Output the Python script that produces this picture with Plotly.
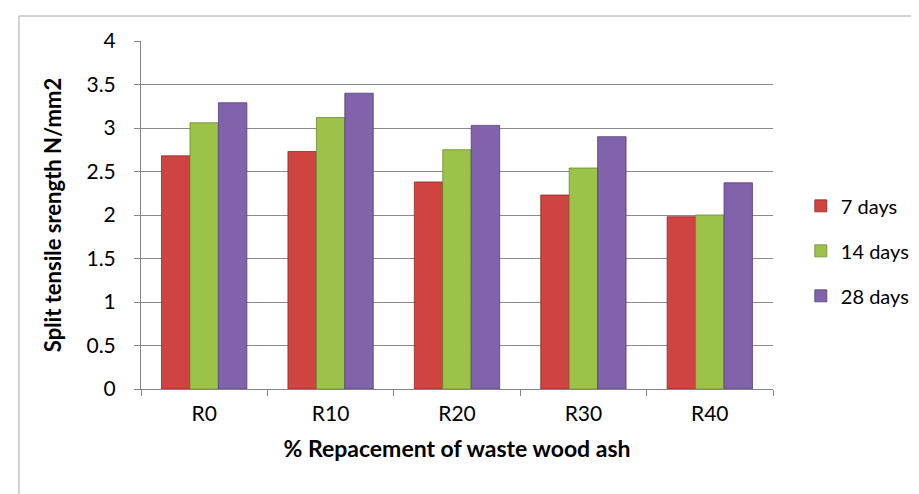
import plotly.graph_objects as go

categories = ["R0", "R10", "R20", "R30", "R40"]
series_names = ["7 days", "14 days", "28 days"]
days7 = [2.68, 2.73, 2.38, 2.23, 1.98]
days14 = [3.06, 3.12, 2.75, 2.54, 2.00]
days28 = [3.29, 3.40, 3.03, 2.90, 2.37]
colors = ["#CF4341", "#9CC24A", "#8063AA"]
line_colors = ["#8E2A28", "#6B8A2E", "#533E78"]
y_ticks = [0, 0.5, 1, 1.5, 2, 2.5, 3, 3.5, 4]

W, H = 919, 494
L, R, T, B = 133, 149, 33, 113

fig = go.Figure()
for name, vals, c, lc in zip(series_names, [days7, days14, days28], colors, line_colors):
    fig.add_trace(go.Bar(
        x=categories, y=vals, name=name,
        marker=dict(color=c, line=dict(color=lc, width=0.8)),
        legendgroup=name,
    ))

font_family = "Lato, Open Sans, sans-serif"
FS = 21

fig.update_layout(
    width=W, height=H,
    margin=dict(l=L, r=R, t=T, b=B, pad=0),
    paper_bgcolor="white", plot_bgcolor="white",
    barmode="group", bargap=0.325, bargroupgap=0,
    font=dict(family=font_family, size=FS, color="black"),
    showlegend=True,
    legend=dict(x=1.044, y=0.397, xanchor="left", yanchor="middle",
                font=dict(size=20), tracegroupgap=16,
                itemwidth=30, bgcolor="rgba(0,0,0,0)"),
    xaxis=dict(
        showline=True, linecolor="#868686", linewidth=1,
        ticks="outside", ticklen=6, tickcolor="#868686", tickson="boundaries",
        showgrid=False, ticklabelstandoff=6,
        title=dict(text="<b>% Repacement of waste wood ash</b>", font=dict(size=23), standoff=16),
        tickfont=dict(size=FS),
    ),
    yaxis=dict(
        range=[0, 4], tickvals=y_ticks,
        showline=True, linecolor="#868686", linewidth=1,
        ticks="outside", ticklen=6, tickcolor="#868686",
        showgrid=True, gridcolor="#8C8C8C", gridwidth=1,
        zeroline=False, ticklabelstandoff=14,
        title=dict(text="<b>Split tensile srength N/mm2</b>", font=dict(size=22), standoff=18),
        tickfont=dict(size=FS),
    ),
)

# outer chart frame (only top and left edges visible in the reference)
fig.add_shape(type="line", xref="paper", yref="paper",
              x0=(10 - L) / (W - L - R), x1=(930 - L) / (W - L - R),
              y0=1 + (T - 8) / (H - T - B), y1=1 + (T - 8) / (H - T - B),
              line=dict(color="#A6A6A6", width=1))
fig.add_shape(type="line", xref="paper", yref="paper",
              x0=(10 - L) / (W - L - R), x1=(10 - L) / (W - L - R),
              y0=1 + (T - 8) / (H - T - B), y1=-(B + 10) / (H - T - B),
              line=dict(color="#A6A6A6", width=1))

fig.write_html("out.html")
